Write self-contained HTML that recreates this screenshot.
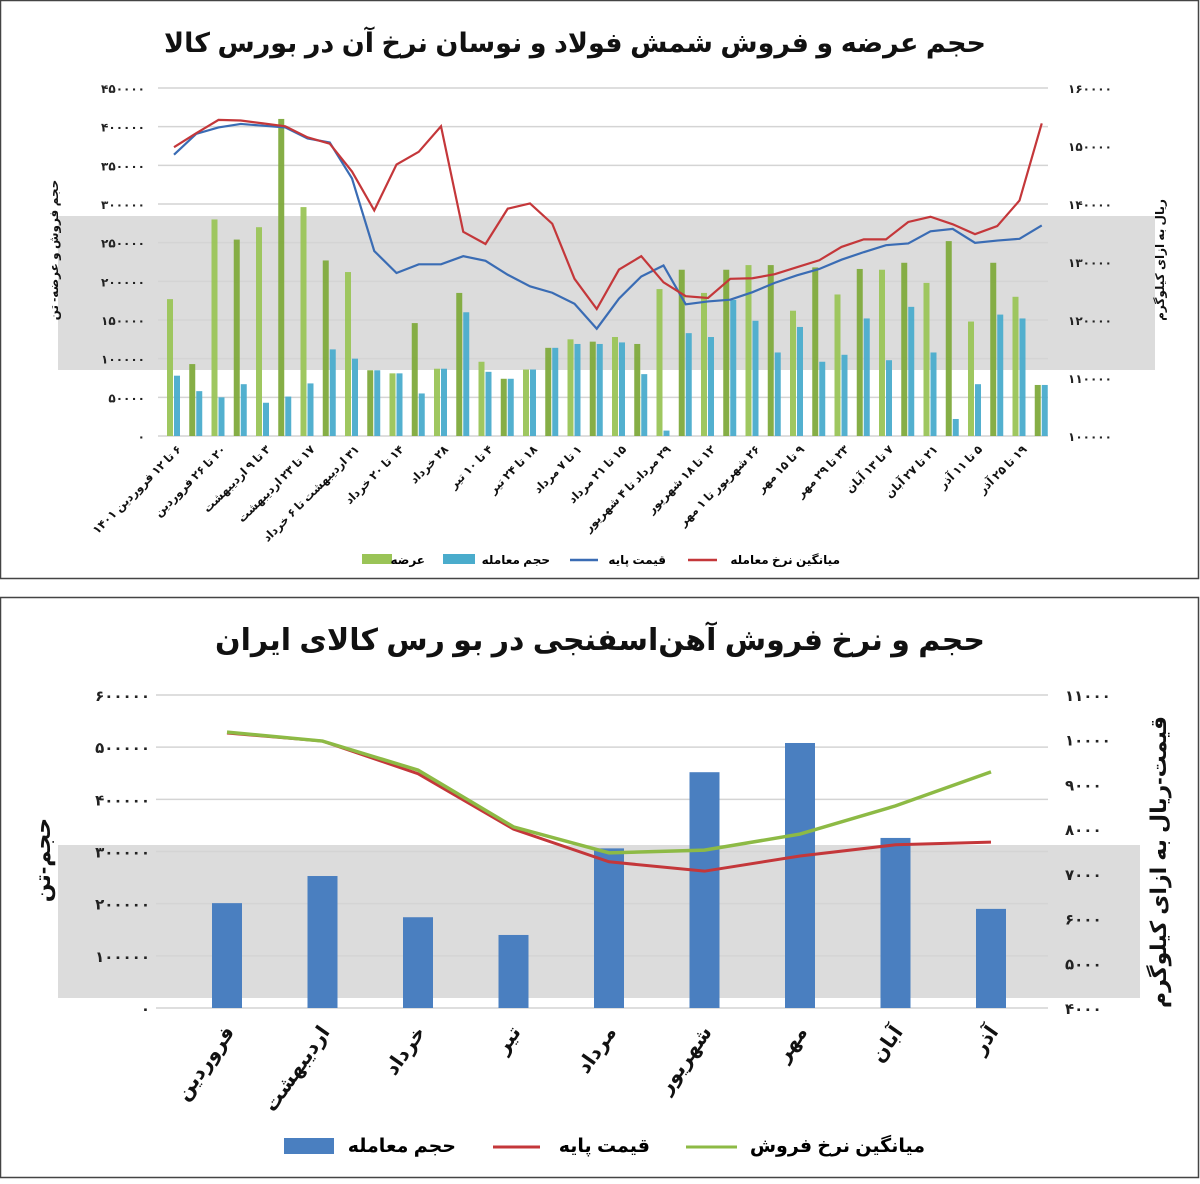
<!DOCTYPE html>
<html><head><meta charset="utf-8">
<style>
html,body{margin:0;padding:0;background:#fff;}
svg text{font-family:"Liberation Sans","DejaVu Sans","Noto Sans CJK SC",sans-serif;font-weight:bold;}
</style></head>
<body>
<svg id="chart" width="1200" height="1179" viewBox="0 0 1200 1179" xmlns="http://www.w3.org/2000/svg">
<rect x="0.5" y="0.5" width="1198" height="578" fill="#fff" stroke="#444" stroke-width="1.5"/>
<rect x="0.5" y="597.5" width="1198" height="580" fill="#fff" stroke="#444" stroke-width="1.5"/>
<rect x="58" y="216" width="1097" height="154" fill="#dcdcdc"/>
<rect x="58" y="845" width="1082" height="153" fill="#dcdcdc"/>
<text x="575" y="52" font-size="27" text-anchor="middle" direction="rtl" fill="#111">حجم عرضه و فروش شمش فولاد و نوسان نرخ آن در بورس کالا</text>
<text x="600" y="650" font-size="30" text-anchor="middle" direction="rtl" fill="#111">حجم و نرخ فروش آهن‌اسفنجی در بو رس کالای ایران</text>
<g id="top"></g>
<g id="bot"></g>
</svg>
<script>
// ---- top chart data ----
const topLabels=["۶ تا ۱۲ فروردین ۱۴۰۱","۲۰ تا ۲۶ فروردین","۳ تا ۹ اردیبهشت","۱۷ تا ۲۳ اردیبهشت","۳۱ اردیبهشت تا ۶ خرداد","۱۴ تا ۲۰ خرداد","۲۸ خرداد","۴ تا ۱۰ تیر","۱۸ تا ۲۴ تیر","۱ تا ۷ مرداد","۱۵ تا ۲۱ مرداد","۲۹ مرداد تا ۴ شهریور","۱۲ تا ۱۸ شهریور","۲۶ شهریور تا ۱ مهر","۹ تا ۱۵ مهر","۲۳ تا ۲۹ مهر","۷ تا ۱۳ آبان","۲۱ تا ۲۷ آبان","۵ تا ۱۱ آذر","۱۹ تا ۲۵ آذر"];
const supply=[177000,93000,280000,254000,270000,410000,296000,227000,212000,85000,81000,146000,87000,185000,96000,74000,86000,114000,125000,122000,128000,119000,190000,215000,185000,215000,221000,221000,162000,218000,183000,216000,215000,224000,198000,252000,148000,224000,180000,66000];
const traded=[78000,58000,50000,67000,43000,51000,68000,112000,100000,85000,81000,55000,87000,160000,83000,74000,86000,114000,119000,119000,121000,80000,7000,133000,128000,176000,149000,108000,141000,96000,105000,152000,98000,167000,108000,22000,67000,157000,152000,66000];
const basePrice=[148500,152100,153200,153800,153500,153200,151300,150600,144400,131900,128100,129600,129600,131000,130200,127800,125800,124700,122800,118500,123700,127500,129400,122700,123200,123500,124800,126400,127700,128800,130400,131700,132900,133200,135300,135700,133300,133700,134000,136300];
const avgPrice=[149800,152200,154500,154400,153900,153400,151500,150400,145600,138900,146800,149000,153400,135200,133100,139200,140100,136600,127100,121900,128700,131000,126500,124100,123800,127100,127200,127900,129100,130300,132600,133900,133900,136900,137800,136500,134800,136200,140600,153900];
const topLeftTicks=[0,50000,100000,150000,200000,250000,300000,350000,400000,450000];
const topRightTicks=[100000,110000,120000,130000,140000,150000,160000];
// ---- bottom chart data ----
const months=["فروردین","اردیبهشت","خرداد","تیر","مرداد","شهریور","مهر","آبان","آذر"];
const volume=[201000,253000,174000,140000,306000,452000,508000,326000,190000];
const basePrice2=[10150,9970,9240,8000,7270,7060,7400,7650,7710];
const avgPrice2=[10170,9970,9320,8050,7470,7530,7890,8520,9280];
const botLeftTicks=[0,100000,200000,300000,400000,500000,600000];
const botRightTicks=[4000,5000,6000,7000,8000,9000,10000,11000];

const NS="http://www.w3.org/2000/svg";
const fa=n=>String(n).replace(/\d/g,d=>"۰۱۲۳۴۵۶۷۸۹"[d]);
function mk(parent,tag,attrs,text){const e=document.createElementNS(NS,tag);for(const k in attrs)e.setAttribute(k,attrs[k]);if(text!==undefined)e.textContent=text;parent.appendChild(e);return e;}

// ===== TOP =====
(function(){
const g=document.getElementById('top');
const x0=170,dx=22.25,yT=88,yB=436;
const xC=i=>x0+i*dx+4;
const yL=v=>yB-(v/450000)*(yB-yT);
const yR=v=>yB-((v-100000)/60000)*(yB-yT);
topLeftTicks.forEach(t=>{
 const gl=mk(g,'line',{x1:158,x2:1048,y1:yL(t),y2:yL(t),stroke:'#d4d4d4','stroke-width':1.5});
 
 const tx=mk(g,'text',{x:145,y:yL(t)+5,'font-size':12,'text-anchor':'end',fill:'#222'},fa(t));
 
});
topRightTicks.forEach(t=>{
 const tx=mk(g,'text',{x:1068,y:yR(t)+5,'font-size':12,'text-anchor':'start',fill:'#222'},fa(t));
 
});
supply.forEach((v,i)=>{
 const r=mk(g,'rect',{x:xC(i)-7,y:yL(v),width:6,height:yB-yL(v),fill:i%2?'#7faa3c':'#9ac457',opacity:0.95});
 
});
traded.forEach((v,i)=>{
 const r=mk(g,'rect',{x:xC(i),y:yL(v),width:6,height:yB-yL(v),fill:'#4aaccc',opacity:0.95});
 
});
const p1=mk(g,'polyline',{points:basePrice.map((v,i)=>xC(i)+','+yR(v)).join(' '),fill:'none',stroke:'#3a6cb4','stroke-width':2.2});

const p2=mk(g,'polyline',{points:avgPrice.map((v,i)=>xC(i)+','+yR(v)).join(' '),fill:'none',stroke:'#c4373a','stroke-width':2.2});

topLabels.forEach((l,k)=>{
 const x=xC(2*k)+8,y=450;
 const t=mk(g,'text',{x:x,y:y,'font-size':11.5,'text-anchor':'start',direction:'rtl',fill:'#111',transform:`rotate(-45 ${x} ${y})`},l);
 
});
const a1=mk(g,'text',{x:58,y:250,'font-size':12,'text-anchor':'middle',direction:'rtl',fill:'#111',transform:'rotate(-90 58 250)'},'حجم فروش و عرضه- تن');

const a2=mk(g,'text',{x:1164,y:260,'font-size':12,'text-anchor':'middle',direction:'rtl',fill:'#111',transform:'rotate(-90 1164 260)'},'ریال به ازای کیلوگرم');

// legend
const lg=mk(g,'g',{});
let r1=mk(lg,'rect',{x:362,y:554,width:30,height:10,fill:'#9ac457'});
let t1=mk(lg,'text',{x:425,y:564,'font-size':12,'text-anchor':'start',direction:'rtl'},'عرضه');
let r2=mk(lg,'rect',{x:443,y:554,width:32,height:10,fill:'#4aaccc'});
let t2=mk(lg,'text',{x:550,y:564,'font-size':12,'text-anchor':'start',direction:'rtl'},'حجم معامله');
let l3=mk(lg,'line',{x1:570,x2:598,y1:560,y2:560,stroke:'#3a6cb4','stroke-width':2.5});
let t3=mk(lg,'text',{x:666,y:564,'font-size':12,'text-anchor':'start',direction:'rtl'},'قیمت پایه');
let l4=mk(lg,'line',{x1:688,x2:717,y1:560,y2:560,stroke:'#c4373a','stroke-width':2.5});
let t4=mk(lg,'text',{x:840,y:564,'font-size':12,'text-anchor':'start',direction:'rtl'},'میانگین نرخ معامله');
})();

// ===== BOTTOM =====
(function(){
const g=document.getElementById('bot');
const x0=227,dx=95.5,yT=695,yB=1008;
const xC=i=>x0+i*dx;
const yL=v=>yB-(v/600000)*(yB-yT);
const yR=v=>yB-((v-4000)/7000)*(yB-yT);
botLeftTicks.forEach(t=>{
 const gl=mk(g,'line',{x1:156,x2:1048,y1:yL(t),y2:yL(t),stroke:'#d4d4d4','stroke-width':1.5});
 
 const tx=mk(g,'text',{x:150,y:yL(t)+6,'font-size':15,'text-anchor':'end',fill:'#222'},fa(t));
 
});
botRightTicks.forEach(t=>{
 const tx=mk(g,'text',{x:1065,y:yR(t)+6,'font-size':15,'text-anchor':'start',fill:'#222'},fa(t));
 
});
volume.forEach((v,i)=>{
 const r=mk(g,'rect',{x:xC(i)-15,y:yL(v),width:30,height:yB-yL(v),fill:'#4a7fc0'});
 
});
const p1=mk(g,'polyline',{points:basePrice2.map((v,i)=>xC(i)+','+yR(v)).join(' '),fill:'none',stroke:'#c4373a','stroke-width':3});

const p2=mk(g,'polyline',{points:avgPrice2.map((v,i)=>xC(i)+','+yR(v)).join(' '),fill:'none',stroke:'#8dba45','stroke-width':3.5});

months.forEach((m,i)=>{
 const x=xC(i)+8,y=1032;
 const t=mk(g,'text',{x:x,y:y,'font-size':20,'text-anchor':'start',direction:'rtl',fill:'#111',transform:`rotate(-55 ${x} ${y})`},m);
 
});
const a1=mk(g,'text',{x:50,y:860,'font-size':22,'text-anchor':'middle',direction:'rtl',fill:'#111',transform:'rotate(-90 50 860)'},'حجم-تن');

const a2=mk(g,'text',{x:1166,y:862,'font-size':22,'text-anchor':'middle',direction:'rtl',fill:'#111',transform:'rotate(-90 1166 862)'},'قیمت-ریال به ازای کیلوگرم');

const lg=mk(g,'g',{});
let r1=mk(lg,'rect',{x:284,y:1138,width:50,height:16,fill:'#4a7fc0'});
let t1=mk(lg,'text',{x:456,y:1152,'font-size':19,'text-anchor':'start',direction:'rtl'},'حجم معامله');
let l2=mk(lg,'line',{x1:493,x2:540,y1:1147,y2:1147,stroke:'#c4373a','stroke-width':3});
let t2=mk(lg,'text',{x:650,y:1152,'font-size':19,'text-anchor':'start',direction:'rtl'},'قیمت پایه');
let l3=mk(lg,'line',{x1:686,x2:737,y1:1147,y2:1147,stroke:'#8dba45','stroke-width':3});
let t3=mk(lg,'text',{x:925,y:1152,'font-size':19,'text-anchor':'start',direction:'rtl'},'میانگین نرخ فروش');
})();
</script>
</body></html>
